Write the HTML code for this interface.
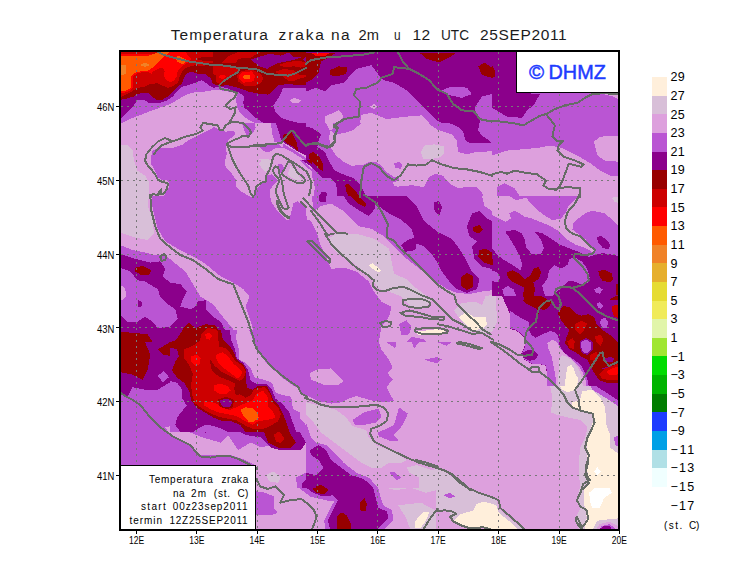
<!DOCTYPE html>
<html lang="hr"><head><meta charset="utf-8"><title>Temperatura zraka na 2m</title>
<style>html,body{margin:0;padding:0;background:#fff}body{width:740px;height:582px;overflow:hidden}svg{display:block}text{font-family:"Liberation Sans",sans-serif;fill:#000}</style>
</head><body>
<svg width="740" height="582" viewBox="0 0 740 582">
<rect width="740" height="582" fill="#fff"/>
<defs><clipPath id="mapclip"><rect x="120" y="51" width="499" height="479"/></clipPath></defs>
<g clip-path="url(#mapclip)" shape-rendering="crispEdges">
<rect x="119" y="50" width="501" height="481" fill="#ba55d3"/>
</g>
<defs><clipPath id="c0"><rect x="120" y="50" width="93" height="73"/></clipPath><clipPath id="c1"><rect x="213" y="50" width="93" height="73"/></clipPath><clipPath id="c2"><rect x="120" y="123" width="93" height="73"/></clipPath><clipPath id="c3"><rect x="213" y="123" width="93" height="73"/></clipPath><clipPath id="c4"><rect x="306" y="50" width="186" height="73"/></clipPath><clipPath id="c5"><rect x="306" y="123" width="93" height="73"/></clipPath><clipPath id="c6"><rect x="399" y="123" width="93" height="73"/></clipPath><clipPath id="c7"><rect x="492" y="50" width="128" height="146"/></clipPath><clipPath id="c8"><rect x="120" y="196" width="186" height="146"/></clipPath><clipPath id="c9"><rect x="306" y="196" width="186" height="146"/></clipPath><clipPath id="c10"><rect x="492" y="196" width="128" height="146"/></clipPath><clipPath id="c11"><rect x="120" y="342" width="186" height="146"/></clipPath><clipPath id="c12"><rect x="306" y="342" width="186" height="146"/></clipPath><clipPath id="c13"><rect x="492" y="342" width="128" height="146"/></clipPath><clipPath id="c14"><rect x="255" y="488" width="181" height="43"/></clipPath><clipPath id="c15"><rect x="436" y="488" width="184" height="43"/></clipPath><clipPath id="c16"><rect x="510" y="300" width="110" height="86"/></clipPath><clipPath id="c17"><rect x="170" y="330" width="130" height="102"/></clipPath><clipPath id="c18"><rect x="492" y="196" width="128" height="100"/></clipPath><clipPath id="c19"><rect x="236" y="160" width="76" height="60"/></clipPath></defs>
<g clip-path="url(#mapclip)" shape-rendering="crispEdges">
<g clip-path="url(#c0)">
<rect x="120" y="50" width="93" height="73" fill="#ba55d3"/>
<polygon fill="#dda0dd" points="122.5,123 132.6,117.9 142.6,114.1 152.7,110.3 162.7,106.6 170.3,104 176.6,100.3 182.8,96.5 187.9,94 195.4,92.1 205.5,91.5 213,90.2 213,123"/>
<polygon fill="#8b008b" points="120,50 213,50 213,87.7 210.5,86.4 206.7,83.3 201.7,80.2 194.1,83.3 187.9,85.2 182.8,86.4 179.1,89 172.8,96.5 166.5,100.9 157.7,103.4 148.9,102.8 143.9,99.6 137.6,100.3 133.8,105.3 127.5,111.6 121,118.5 120,120.4"/>
<polygon fill="#980000" points="120,50 213,50 213,83.7 210.5,78.3 205.5,73.9 197.9,73.9 192.9,72 187.9,72.6 185.4,75.1 181.6,83.9 176.6,87.7 172.8,91.5 167.8,96.5 162.7,99.6 156.4,99.6 152.7,97.1 148.9,93.4 143.9,92.7 137.6,94 133.8,96.5 127.5,98.4 121,99.6 120,99.6"/>
<polygon fill="#cd0000" points="120,50 213,50 213,62.6 208,63.8 202.9,66.3 195.4,65.1 190.4,66.3 184.1,68.9 180.3,75.1 177.8,82.7 172.8,86.4 167.8,87.7 162.7,85.8 157.7,83.3 150.2,83.9 145.1,86.4 138.9,87.7 133.8,90.2 127.5,94 121,97.1 120,97.1"/>
<polygon fill="#980000" points="196.7,58.8 202.9,56.9 213,57.5 213,60.7 205.5,60.7 199.2,60.3"/>
<polygon fill="#ff0000" points="120,54.4 155.2,54.4 159,52 185.4,52 188.5,55.7 191.6,59.4 187.9,62.6 182.8,65.7 179.1,68.9 177.2,72.6 176.6,76.4 174,80.8 170.3,82 167.1,80.8 164,76.4 164.6,70.7 162.7,67.6 157.7,68.9 152.7,72 151.4,74.1 148.3,71.6 137.6,72.9 132.6,77 132.6,88.3 127.5,92.1 120,93.4"/>
<polygon fill="#ff5a00" points="120,55.7 148.9,55.7 157.7,52.5 168.4,52 169,53.1 162.7,57.5 157.7,62.6 152.7,67.6 147.6,70.7 140.1,71.4 133.8,73.2 130.7,77.6 130.7,87.7 127.5,90.2 120,91.5"/>
<polygon fill="#ff5a00" points="174,57.5 179.1,55.7 186.6,60.1 182.8,64.5 177.8,61.9"/>
<polygon fill="#f08228" points="120,65.7 125.7,64.5 125.7,73.9 123.1,75.1 120,75.1"/>
<polygon fill="#f08228" points="140.1,65.1 145.1,62.6 150.2,65.1 145.1,67"/>
</g>
<g clip-path="url(#c1)">
<rect x="213" y="50" width="93" height="73" fill="#ba55d3"/>
<polygon fill="#dda0dd" points="213,89.6 220.5,90.2 228.1,91.5 236.9,93.4 236.2,100.3 236.9,106.6 240,112.8 245.7,117.9 254.5,123 213,123"/>
<polygon fill="#dda0dd" points="289.7,100.3 294.7,97.8 301,100.3 298.5,102.8 292.2,102.8"/>
<polygon fill="#8b008b" points="213,50 306,50 306,87.7 283.4,87.7 278.4,97.8 273.3,105.3 275.8,112.8 280.9,117.9 288.4,120.4 298.5,123 263.3,123 255.7,117.9 250.7,112.8 244.4,107.8 243.2,102.8 244.4,96.5 239.4,92.7 231.9,90.2 225.6,87.7 219.3,87.1 213,87.7"/>
<polygon fill="#980000" points="213,50 306,50 306,84.6 298.5,85.2 288.4,83.9 278.4,85.2 273.3,90.2 268.3,94.6 257,93.4 248.2,91.5 238.1,87.7 228.1,85.2 220.5,85.8 213,83.9"/>
<polygon fill="#8b008b" points="250.7,59.4 260.8,56.3 269.6,53.8 280.9,55.7 288.4,52.5 293.4,56.9 301,57.5 293.4,60.1 283.4,61.9 275.8,63.8 267,68.9 259.5,66.3 254.5,62.6"/>
<polygon fill="#8b008b" points="306,56.9 302.9,59.4 306,62.6"/>
<polygon fill="#cd0000" points="222.4,62.6 229.3,55.7 238.1,52 260.8,52 250.7,57.5 238.1,58.8 235.6,63.2"/>
<polygon fill="#cd0000" points="213,66.3 230.6,66.3 239.4,68.9 238.1,72 231.9,75.1 225.6,80.2 219.3,83.9 215.5,81.4 215.5,75.1 213,73.9"/>
<polygon fill="#ff0000" points="219.3,75.8 223.1,74.5 226.2,76.4 223.1,78.9 219.3,78.3"/>
<polygon fill="#cd0000" points="236.9,75.1 241.9,70.7 253.2,70.1 260.8,73.9 263.3,78.9 260.8,83.3 254.5,86.4 244.4,85.8 238.1,81.4"/>
<polygon fill="#ff0000" points="238.1,77 242.5,72 252,71.4 255.1,76.4 253.2,81.4 243.2,82.7"/>
<polygon fill="#ff5a00" points="242.5,77 245,75.1 249.4,75.1 250.7,77 249.4,78.9 244.4,79.2"/>
<polygon fill="#cd0000" points="274.6,72 283.4,68.9 293.4,70.1 299.7,75.1 306,75.1 306,77 298.5,78.9 293.4,81.4 288.4,80.8 280.9,75.1"/>
<polygon fill="#cd0000" points="278.4,65.1 288.4,61.9 298.5,60.7 306,62.6 306,66.3 301,67.6 293.4,66.3 285.9,67.6"/>
</g>
<g clip-path="url(#c2)">
<rect x="120" y="123" width="93" height="73" fill="#dda0dd"/>
<polygon fill="#ba55d3" points="213,128 208,130.5 200.4,134.3 195.4,136.8 187.9,140.6 182.8,144.4 172.8,148.1 161.5,148.1 152.7,150 151.4,155.7 151.4,164.5 155.2,170.8 157.7,177 161.5,179.6 168.4,180.8 169,187.1 166.5,191.5 164,196 213,196"/>
<polygon fill="#d8bfd8" points="120,145 127.5,145 132.6,150.6 133.8,159.4 137.6,170.8 145.1,175.8 148.9,182.1 148.9,196 120,196"/>
</g>
<g clip-path="url(#c3)">
<rect x="213" y="123" width="93" height="73" fill="#dda0dd"/>
<polygon fill="#ba55d3" points="213,126.8 219.3,129.3 225.6,131.8 230.6,130.5 235.6,131.8 234.4,135.6 229.3,139.3 225.6,144.4 226.8,154.4 224.9,160.7 225.6,167 230.6,172 235.6,179.6 238.1,188.4 244.4,196 213,196"/>
<polygon fill="#ba55d3" points="241.9,123 254.5,123 255.7,128 252,134.3 246.9,135.6 244.4,130.5"/>
<polygon fill="#ba55d3" points="259.5,146.2 267,145 278.4,144.4 283.4,148.1 275.8,148.1 269.6,151.9 263.3,151.3"/>
<polygon fill="#ba55d3" points="270.8,123 278.4,123 278.4,130.5 283.4,140.6 280.9,143.7 274.6,141.9 272.1,133.1"/>
<polygon fill="#ba55d3" points="283.4,143.7 288.4,146.9 297.2,151.9 306,158.2 306,160.7 298.5,156.3 290.9,151.3 283.4,147.5"/>
<polygon fill="#ba55d3" points="278.4,164.5 283.4,165.7 283.4,173.3 280.9,179.6 283.4,188.4 285.9,196 273.3,196 268.3,193.4 268.3,185.8 273.3,177 275.8,170.8"/>
<polygon fill="#8b008b" points="275.8,123 306,123 306,155.7 301,153.2 297.2,151.3 290.9,146.9 284.6,143.1 280.9,139.3 278.4,130.5"/>
<polygon fill="#980000" points="283.4,134.9 291.5,131.8 294.7,138.1 297.2,143.1 297.8,151.3 293.4,146.9 287.1,143.7 283.4,139.3"/>
<polygon fill="#d8bfd8" points="258.9,159.4 269.6,158.8 268.3,165.7 263.9,172 260.1,165.7"/>
<polygon fill="#d8bfd8" points="233.7,159.4 236.2,160.7 236.9,167 234.4,168.2"/>
<polygon fill="#d8bfd8" points="289.7,167 293.4,164.5 299.7,173.3 303.5,178.3 295.9,179.6 288.4,175.8"/>
</g>
<g clip-path="url(#c4)">
<rect x="306" y="50" width="186" height="73" fill="#ba55d3"/>
<polygon fill="#8b008b" points="306,50 492,50 492,122.9 441.7,122.9 436.7,120.4 426.7,110.3 416.6,100.3 406.6,90.2 394,82.7 383.9,80.2 378.9,75.1 371.4,65.1 356.3,68.9 343.7,82.7 331.1,85.2 324.9,91.5 316.1,87.7 306,91.5"/>
<polygon fill="#ba55d3" points="441.7,90.2 451.8,86.5 466.9,87.7 471.9,94 461.9,97.8 449.3,95.2"/>
<polygon fill="#ba55d3" points="492,94 482,96.5 474.4,107.8 479.5,120.4 479.5,122.9 492,122.9"/>
<polygon fill="#980000" points="306,52.5 336.2,52.5 328.6,57.5 321.1,61.3 318.6,72.6 311,80.2 306,82.7"/>
<polygon fill="#980000" points="329.9,70.1 338.7,66.3 347.5,67.6 346.2,73.9 336.2,76.4 329.9,75.1"/>
<polygon fill="#980000" points="419.1,52.5 456.8,52.5 449.3,57.5 439.2,62.6 426.7,58.8"/>
<polygon fill="#980000" points="478.2,66.3 484.5,62.6 492,67.6 492,77.7 482,75.1"/>
<polygon fill="#ff0000" points="311,52.5 329.9,52.5 326.1,55.5 316.1,56.3"/>
<polygon fill="#dda0dd" points="324.9,116.6 338.7,110.3 343.7,115.9 338.7,122.9 324.9,122.9"/>
<polygon fill="#dda0dd" points="360,122.9 361.3,114.9 371.4,112.8 386.4,119.1 406.6,116.6 421.6,115.4 429.2,122.9"/>
<polygon fill="#dda0dd" points="370.1,106.6 373.9,104 377.6,106.6 373.9,109.1"/>
</g>
<g clip-path="url(#c5)">
<rect x="306" y="123" width="93" height="73" fill="#ba55d3"/>
<polygon fill="#dda0dd" points="329.9,130.5 336.2,134.3 343.7,133.1 353.8,129.9 361.3,123 399,123 399,178.3 394,177 386.4,172 381.4,165.7 376.4,162.2 368.8,162.2 362.6,165.1 351.2,165.7 343.7,162 336.2,155.7 331.1,148.1 329.2,138.1"/>
<polygon fill="#dda0dd" points="326.1,123 333,123 333,129.3 329.9,130.5"/>
<polygon fill="#ba55d3" points="394,163.2 399,162 399,168.2 395.2,167.6"/>
<polygon fill="#dda0dd" points="392.7,182.1 399,180.8 399,187.1 394,185.8"/>
<polygon fill="#8b008b" points="306,126.8 312.3,128 321.1,134.3 318.6,140.6 317.3,146.9 324.9,151.9 328.6,160.7 334.9,170.8 343.7,174.5 353.8,178.3 360,184.6 366.3,196 337.4,196 336.2,183.3 331.1,178.3 322.3,178.3 314.8,170.8 308.5,163.2 306,160.7"/>
<polygon fill="#980000" points="309.1,154.4 312.9,151.9 318.6,155.7 323,164.5 323,171.4 318.6,168.2 312.3,162 309.1,158.2"/>
<polygon fill="#980000" points="345,184.6 348.7,184 356.3,191.5 358.8,196 348.7,196 346.2,190.9"/>
<polygon fill="#dda0dd" points="306,170.1 309.8,173.3 313.5,179.6 314.8,188.4 313.5,196 306,196"/>
<polygon fill="#8b008b" points="318.6,196 322.3,191.5 326.7,192.8 327.4,196"/>
</g>
<g clip-path="url(#c6)">
<rect x="399" y="123" width="93" height="73" fill="#dda0dd"/>
<polygon fill="#ba55d3" points="427.9,123 436.7,129.3 444.2,131.8 451.8,134.3 456.8,140.6 458.1,151.9 466.9,154.4 476.9,151.9 492,151.3 492,123"/>
<polygon fill="#8b008b" points="449.3,123 458.1,126.8 463.1,131.8 465.6,140.6 470.6,143.1 490.7,142.5 489.5,140.6 481.9,135.6 478.2,130.5 479.4,123"/>
<polygon fill="#ba55d3" points="399,186.5 411.6,185.2 424.1,187.1 429.2,177 435.4,173.9 443,175.8 449.3,183.3 458.1,188.4 469.4,186.5 476.9,187.1 481.9,192.1 483.2,196 399,196"/>
<polygon fill="#ba55d3" points="399,162 402.1,164.5 400.9,168.9 399,169.5"/>
<polygon fill="#d8bfd8" points="421,151.9 424.1,145.6 434.2,144.4 443.6,146.2 443.6,154.4 439.2,157.6 429.2,159.4 422.9,158.8"/>
</g>
<g clip-path="url(#c7)">
<rect x="492" y="50" width="128" height="146" fill="#ba55d3"/>
<polygon fill="#8b008b" points="492,50 517.1,50 517.1,92.7 539.8,94 534.7,104 527.2,110.3 522.2,117.9 507.1,116.6 492,107.8"/>
<polygon fill="#dda0dd" points="492,155.6 507.1,150.6 522.2,149.3 537.2,148 549.8,145.5 562.4,148 577.5,155.6 590,163.1 600.1,170.7 610.1,175.7 620.2,175.7 620.2,196.1 492,196.1"/>
<polygon fill="#dda0dd" points="593.8,141.8 600.1,136.7 620.2,135.5 620.2,161.9 605.1,160.6 597.6,155.6"/>
<polygon fill="#dda0dd" points="602.6,94 620.2,94 620.2,100.3 612.7,96.5"/>
<polygon fill="#980000" points="492,65.6 495.5,71.4 495,76.4 492,78.2"/>
<polygon fill="#ba55d3" points="497,187 504.6,183.2 514.6,188.3 519.7,196.1 497,196.1"/>
</g>
<g clip-path="url(#c8)">
<rect x="120" y="196" width="186" height="146" fill="#ba55d3"/>
<polygon fill="#dda0dd" points="120,196 151.4,196 152.7,208.6 157.7,228.7 165.2,241.2 177.8,248.8 192.9,256.3 205.5,263.9 220.6,276.4 233.1,282.7 243.2,289 249.5,296.6 245.7,306.6 250.7,321.7 257,342.1 238.1,342.1 233.1,329.2 220.6,314.1 213,304.1 200.4,296.6 192.9,284 185.4,271.4 172.8,261.4 165.2,255.1 155.2,255.1 145.1,252.6 132.6,250 120,245"/>
<polygon fill="#d8bfd8" points="120,196 148.9,196 147.7,206.1 152.7,218.6 153.9,233.7 147.7,240 135.1,237.5 120,232.5"/>
<polygon fill="#dda0dd" points="270.8,196 306,196 306,206.1 296,203.5 285.9,206.1 275.9,211.1"/>
<polygon fill="#8b008b" points="120,253.8 135.1,258.8 150.2,262.6 160.2,261.4 165.2,268.9 162.7,276.4 170.3,282.7 180.3,284 186.6,291.5 182.8,299.1 180.3,306.6 190.4,309.1 195.4,306.6 197.9,301.6 205.5,300.3 205.5,309.1 213,316.7 220.6,321.7 225.6,331.7 230.6,342.1 120,342.1"/>
<polygon fill="#ba55d3" points="120,267.6 130.1,271.4 137.6,280.2 145.1,281.5 157.7,289 160.2,296.6 167.8,304.1 175.3,309.1 177.8,319.2 170.3,326.7 157.7,328 152.7,321.7 145.1,316.7 137.6,321.7 127.5,321.7 120,314.1"/>
<polygon fill="#dda0dd" points="120,285.2 125,287.8 126.3,296.6 122.5,300.3 120,300.3"/>
<polygon fill="#8b008b" points="137.6,299.1 142.6,302.8 141.4,306.6 137.6,306.6"/>
<polygon fill="#980000" points="135.1,267.6 142.6,265.9 151.4,270.2 148.9,275.2 141.4,275.2 135.1,271.4"/>
<polygon fill="#980000" points="120,331.7 135.1,333 147.7,334.3 152.7,342.1 120,342.1"/>
<polygon fill="#980000" points="180.3,342.1 182.8,329.2 189.1,322.9 195.4,328 205.5,324.2 215.5,325.5 219.3,331.7 220.6,342.1"/>
<polygon fill="#cd0000" points="200.4,342.1 201.7,333 208,328 215.5,329.2 216.8,342.1"/>
<polygon fill="#ff0000" points="205.5,336.8 209.2,333 212.5,335.5 210.5,340.5 206,340.5"/>
</g>
<g clip-path="url(#c9)">
<rect x="306" y="196" width="186" height="146" fill="#ba55d3"/>
<polygon fill="#dda0dd" points="306,208.6 313.5,211.1 321.1,206.1 331.1,203.5 343.7,211.1 358.8,226.2 371.4,228.7 383.9,236.2 394,246.3 406.6,258.8 416.6,266.4 431.7,279 446.8,289 456.8,292.8 469.4,294 482,291.5 492,290.3 492,342.1 378.9,342.1 381.4,326.7 389,316.7 391.5,306.6 381.4,301.6 373.9,291.5 368.8,281.5 356.3,271.4 343.7,267.6 331.1,268.9 326.1,256.3 321.1,246.3 316.1,231.2 311,221.1 306,218.6"/>
<polygon fill="#dda0dd" points="306,196 311,196 313.5,206.1 306,211.1"/>
<polygon fill="#dda0dd" points="482,196 492,196 492,211.1 484.5,206.1"/>
<polygon fill="#d8bfd8" points="328.6,238.7 336.2,233.7 356.3,233.7 373.9,238.7 389,248.8 391.5,261.4 394,273.9 406.6,279 414.1,286.5 424.1,294 431.7,299.1 426.7,306.6 411.6,306.6 401.5,296.6 389,291.5 378.9,289 371.4,279 363.8,271.4 351.2,261.4 338.7,253.8 331.1,246.3"/>
<polygon fill="#d8bfd8" points="453.8,310.4 460.9,303.3 474.9,301.6 482,305.1 485.5,296.3 493.3,294.5 493.3,331.7 482,333 469.4,331.7 461.9,321.7"/>
<polygon fill="#ffefdb" points="368.8,265.1 372.6,263.4 381.4,270.2 378.9,272.7 372.6,268.9"/>
<polygon fill="#ffefdb" points="459.1,317.4 466.1,311.9 474.9,317.4 485.5,317.4 487,324.5 482,329 471.4,330.5 464.4,322.7"/>
<polygon fill="#ffefdb" points="416.6,331.7 436.7,329.2 446.8,330.5 441.7,334.3 426.7,335.5 416.6,334.3"/>
<polygon fill="#ba55d3" points="399,324.2 406.6,320.4 411.6,326.7 409.1,334.3 401.5,335.5"/>
<polygon fill="#ba55d3" points="406.6,342.1 411.6,336.8 424.1,339.3 426.7,342.1"/>
<polygon fill="#8b008b" points="368.8,196 406.6,196 416.6,206.1 424.1,221.1 436.7,231.2 451.8,238.7 459.3,248.8 466.9,261.4 471.9,271.4 479.5,279 476.9,289 466.9,292.8 456.8,289 449.3,281.5 441.7,271.4 436.7,261.4 431.7,253.8 424.1,246.3 416.6,243.8 415.4,250 405.3,251.8 401,245 406.6,240.7 414.1,237.5 411.6,228.7 401.5,219.9 389,213.6 378.9,206.1"/>
<polygon fill="#8b008b" points="466.9,226.2 471.9,213.6 479.5,211.1 487,218.6 492,221.1 492,268.9 482,266.4 474.4,258.8 471.9,246.3 476.9,241.2 469.4,236.2"/>
<polygon fill="#8b008b" points="433.7,202.3 439.2,201 442.2,207.3 439.2,216.1 434.7,211.1"/>
<polygon fill="#8b008b" points="318.6,196 326.1,196 326.1,202.3 319.8,202.3"/>
<polygon fill="#8b008b" points="343.7,196 373.9,196 375.1,208.6 368.8,216.1 356.3,208.6 348.7,203.5"/>
<polygon fill="#980000" points="350,196 358.8,196 366.3,203.5 365.1,207.3 356.3,202.3"/>
<polygon fill="#980000" points="473.2,227.4 479.5,224.9 483.2,229.9 478.2,233.7 473.2,231.2"/>
<polygon fill="#980000" points="479.5,250 485.7,248.8 492,252.6 492,265.1 484.5,262.6 478.2,256.3"/>
<polygon fill="#980000" points="460.6,277.7 466.9,272.7 473.2,276.4 473.2,286.5 466.9,290.3 460.6,285.2"/>
</g>
<g clip-path="url(#c10)">
<rect x="492" y="196" width="128" height="146" fill="#ba55d3"/>
<polygon fill="#dda0dd" points="492,196 620.2,196 620.2,211.1 610.1,208.6 597.6,209.8 587.5,211.1 577.5,218.6 572.4,226.2 577.5,233.7 587.5,241.2 595.1,250 587.5,252.6 575,246.3 564.9,238.7 557.4,233.7 552.3,223.7 542.3,221.1 534.7,211.1 529.7,206.1 522.2,206.1 514.6,211.1 507.1,216.1 499.5,214.9 492,217.4"/>
<polygon fill="#ba55d3" points="529.7,198.5 542.3,196 562.4,201 566.2,211.1 559.9,219.9 549.8,221.1 539.8,214.9 532.2,208.6"/>
<polygon fill="#ba55d3" points="507.1,213.6 517.1,209.8 524.7,216.1 519.7,221.1 509.6,219.9"/>
<polygon fill="#8b008b" points="492,233.7 502.1,238.7 507.1,231.2 517.1,229.9 524.7,238.7 527.2,248.8 532.2,246.3 534.7,231.2 542.3,231.2 552.3,238.7 559.9,246.3 569.9,253.8 577.5,256.3 587.5,255.1 597.6,256.3 607.6,258.8 620.2,258.8 620.2,342.1 527.2,342.1 524.7,331.7 517.1,321.7 507.1,314.1 499.5,306.6 497,296.6 492,291.5 492,281.5 495.8,281.5 497,268.9 492,268.9"/>
<polygon fill="#8b008b" points="597.6,237.5 603.9,236.2 610.1,243.8 606.4,250 600.1,245"/>
<polygon fill="#ba55d3" points="549.8,268.9 557.4,266.4 567.4,258.8 577.5,258.8 585,266.4 588.8,276.4 585,284 577.5,286.5 567.4,281.5 557.4,286.5 549.8,294 542.3,291.5 544.8,281.5"/>
<polygon fill="#ba55d3" points="503.3,289 509.6,286.5 515.9,292.8 512.1,296.6 505.8,295.3"/>
<polygon fill="#ba55d3" points="593.8,289 598.8,286.5 602.6,290.3 597.6,295.3"/>
<polygon fill="#ba55d3" points="597.6,311.6 605.1,316.7 608.9,324.2 602.6,328 598.8,320.4"/>
<polygon fill="#ba55d3" points="596.3,301.6 601.4,304.1 602.6,309.1 597.6,307.9"/>
<polygon fill="#dda0dd" points="492,296.1 502.1,296.1 510.1,314.1 514.6,342.1 492,342.1"/>
<polygon fill="#d8bfd8" points="492,296.1 495.8,296.1 497,321.7 492,331.7"/>
<polygon fill="#980000" points="507.1,273.9 514.6,271.4 524.7,276.4 532.2,268.9 539.8,268.9 541,279 537.2,289 542.3,296.6 547.3,299.1 542.3,304.1 532.2,306.6 524.7,301.6 522.2,291.5 519.7,284 512.1,282.7 507.1,279"/>
<polygon fill="#980000" points="537.2,314.1 546,301.6 554.8,300.3 559.9,306.6 564.9,304.1 569.9,309.1 572.4,316.7 585,316.7 592.6,314.1 597.6,321.7 600.1,331.7 607.6,342.1 557.4,342.1 556.1,321.7 549.8,314.1 542.3,316.7"/>
<polygon fill="#980000" points="598.8,272.7 605.1,270.2 612.7,273.9 612.7,280.2 605.1,281.5 600.1,277.7"/>
<polygon fill="#980000" points="620.2,284 615.2,296.6 610.1,299.1 607.6,306.6 612.7,316.7 620.2,319.2"/>
<polygon fill="#cd0000" points="572.4,326.7 577.5,321.7 585,320.4 591.3,324.2 590,331.7 582.5,335.5 575,333"/>
<polygon fill="#cd0000" points="592.6,336.8 600.1,334.3 602.6,342.1 592.6,342.1"/>
<polygon fill="#cd0000" points="612.7,306.6 620.2,304.1 620.2,316.7 613.9,314.1"/>
</g>
<g clip-path="url(#c11)">
<rect x="120" y="342" width="186" height="146" fill="#ba55d3"/>
<polygon fill="#dda0dd" points="230.6,342 250.7,342 255.7,352.1 265.8,364.6 280.9,377.2 296,387.2 306,397.3 306,425 296,414.9 293.5,402.3 283.4,392.3 270.8,379.7 255.7,372.2 245.7,362.1 238.1,352.1"/>
<polygon fill="#dda0dd" points="165.2,427.5 175.3,425 190.4,432.5 203,437.5 220.6,442.6 228.1,435 238.1,450.1 250.7,442.6 260.8,447.6 270.8,445.1 285.9,447.6 306,442.6 306,488.1 255.7,488.1 255.7,465.2 245.7,460.1 230.6,455.1 215.5,455.1 200.4,455.1 192.9,447.6 182.8,442.6 170.3,435"/>
<polygon fill="#d8bfd8" points="265.8,475.2 273.3,471.5 280.9,476.5 278.4,482.8 269.6,481.5"/>
<polygon fill="#ba55d3" points="296,477.7 306,472.7 306,488.1 297.2,488.1"/>
<polygon fill="#8b008b" points="301.5,488.1 302.3,482.8 306,479 306,488.1"/>
<polygon fill="#8b008b" points="120,342 234.4,342 241.9,352.1 249.5,362.1 252.7,375.9 263.3,382.7 273.8,386.7 283.4,399.3 288.9,414.4 298.5,429.5 306,442.6 301,450.1 280.9,450.1 270.8,447.6 260.8,437.5 245.7,435 230.6,427.5 220.6,425 210.5,427.5 205.5,432.5 192.9,430 185.4,425 175.3,419.9 182.8,409.9 185.4,402.3 180.3,392.3 170.3,382.2 157.7,389.8 145.1,389.8 132.6,387.2 127.5,397.3 120,392.3"/>
<polygon fill="#ba55d3" points="157.7,375.9 164,370.9 169,377.2 162.7,382.2"/>
<polygon fill="#980000" points="120,342 145.1,342 150.2,354.6 147.7,369.7 142.6,379.7 132.6,374.7 120,372.2"/>
<polygon fill="#980000" points="157.7,349.5 170.3,342 230.6,342 238.1,354.6 245.7,367.1 245.7,379.7 255.7,387.2 265.8,386 275.9,397.3 280.9,412.4 290.9,435 296,442.6 290.9,447.6 278.4,447.6 268.3,442.6 263.3,430 250.7,432.5 238.1,425 220.6,419.9 205.5,414.9 195.4,407.4 190.4,392.3 182.8,384.7 177.8,369.7 177.8,357.1 162.7,354.6"/>
<polygon fill="#cd0000" points="182.8,349.5 192.9,344.5 203,342 230.6,342 235.6,354.6 243.2,367.1 244.4,377.2 238.1,384.7 243.2,394.8 253.2,392.3 258.3,387.2 265.8,388.5 273.3,399.8 278.4,414.9 280.9,425 275.9,428.7 269.6,428.7 260.8,427.5 250.7,430 240.7,422.4 228.1,419.9 215.5,417.4 203,409.9 195.4,402.3 192.9,389.8 187.9,382.2 185.4,369.7 182.8,359.6"/>
<polygon fill="#980000" points="205.5,364.6 213,362.1 218,369.7 225.6,377.2 235.6,379.7 240.7,384.7 238.1,392.3 230.6,387.2 220.6,382.2 210.5,377.2 205.5,372.2"/>
<polygon fill="#ff0000" points="215.5,357.1 220.6,350.8 228.1,352.1 233.1,362.1 240.7,369.7 243.2,375.9 235.6,377.2 228.1,372.2 220.6,367.1"/>
<polygon fill="#ff0000" points="213,384.7 223.1,383.5 230.6,388.5 225.6,392.3 218,393.5 213,389.8"/>
<polygon fill="#ff0000" points="203,401.1 213,399.8 220.6,407.4 230.6,409.9 235.6,404.8 248.2,399.8 253.2,392.3 260.8,389.8 268.3,397.3 270.8,407.4 275.9,414.9 270.8,422.4 263.3,425 255.7,428.7 245.7,427.5 238.1,419.9 225.6,417.4 213,412.4 205.5,407.4"/>
<polygon fill="#cd0000" points="273.8,434.5 279.6,431.2 284.7,438.8 280.9,443.1 275.9,441.5"/>
<polygon fill="#ff0000" points="191.6,355.8 196.7,354.6 200.4,364.6 195.4,367.1 191.6,362.1"/>
<polygon fill="#ff5a00" points="240.7,411.1 248.2,407.4 257,409.9 258.3,417.4 253.2,421.2 245.7,419.9 240.7,416.2"/>
<polygon fill="#8b008b" points="221.8,401.1 228.1,398.6 232.6,402.3 229.4,406.1 223.1,405.3"/>
</g>
<g clip-path="url(#c12)">
<rect x="306" y="342" width="186" height="146" fill="#dda0dd"/>
<polygon fill="#ba55d3" points="306,342 378.9,342 381.4,349.5 389,359.6 392.7,367.1 387.7,373.4 392.7,379.7 386.4,387.2 394,401.1 381.4,402.3 368.8,399.8 356.3,396 348.7,398.6 341.2,402.3 331.1,403.6 318.6,401.1 306,394.8"/>
<polygon fill="#dda0dd" points="309.8,373.4 316.1,369.7 331.1,368.4 337.4,374.7 343.7,381 338.7,384.7 323.6,384.7 311,379.7"/>
<polygon fill="#ba55d3" points="352.5,419.9 363.8,412.4 378.9,408.6 381.4,417.4 376.4,422.4 363.8,425 355,425"/>
<polygon fill="#ba55d3" points="394,425 399,407.4 407.8,413.6 402.8,425 394,435 399,441.3 391.5,441.3 378.9,436.3 377.6,432.5 386.4,428.7"/>
<polygon fill="#ba55d3" points="386.4,342 396.5,342 395.2,348.3"/>
<polygon fill="#ba55d3" points="411.6,342 419.1,342 414.1,348.3"/>
<polygon fill="#ba55d3" points="424.1,359.6 436.7,357.1 441.7,359.6 436.7,363.4"/>
<polygon fill="#ba55d3" points="436.7,342 451.8,342 446.8,345.8"/>
<polygon fill="#ba55d3" points="389,472.7 394,471.5 401,477.7 396.5,480.3"/>
<polygon fill="#d8bfd8" points="306,402.3 316.1,404.8 326.1,407.4 336.2,409.9 346.2,417.4 352.5,426.2 366.3,430 368.8,437.5 376.4,445.1 389,450.1 399,455.1 406.6,460.1 401.5,462.7 389,462.7 381.4,467.7 371.4,467.7 361.3,462.7 351.2,455.1 341.2,447.6 331.1,440 321.1,432.5 313.5,422.4 306,414.9"/>
<polygon fill="#d8bfd8" points="406.6,467.7 416.6,465.2 431.7,470.2 439.2,477.7 431.7,481.5 419.1,477.7 409.1,472.7"/>
<polygon fill="#d8bfd8" points="431.7,470.2 439.2,467.7 467.4,488.1 419.1,488.1 419.1,477.7"/>
<polygon fill="#ba55d3" points="306,422.4 311,437.5 316.1,442.6 326.1,445.1 333.7,452.6 343.7,462.7 356.3,472.7 368.8,477.7 378.9,488.1 306,488.1"/>
<polygon fill="#8b008b" points="309.8,450.1 318.6,445.1 326.1,450.1 331.1,460.1 341.2,467.7 351.2,475.2 363.8,479 373.9,488.1 306,488.1 306,472.7 316.1,475.2 323.6,467.7 318.6,460.1 311,455.1"/>
<polygon fill="#980000" points="316.1,486.5 321.1,484.8 326.1,488.1 316.1,488.1"/>
</g>
<g clip-path="url(#c13)">
<rect x="492" y="342" width="128" height="146" fill="#dda0dd"/>
<polygon fill="#d8bfd8" points="549.8,384.7 557.4,379.7 562.4,367.1 567.4,357.1 575,359.6 587.5,374.7 597.6,382.2 607.6,392.3 612.7,402.3 620.2,407.4 620.2,488.1 580,488.1 578.7,467.7 580,447.6 585,437.5 587.5,427.5 580,419.9 567.4,417.4 557.4,414.9 551.1,412.4 552.3,397.3"/>
<polygon fill="#ffefdb" points="558.6,384.7 567.4,367.1 572.4,365.9 576.2,372.2 578.7,382.2 575,389.8 567.4,392.3 562.4,389.8"/>
<polygon fill="#ffefdb" points="572.4,402.3 580,399.8 582.5,391 592.6,389.8 600.1,397.3 605.1,407.4 606.4,425 610.1,435 610.1,447.6 620.2,455.1 620.2,488.1 586.3,488.1 588.8,477.7 586.3,467.7 587.5,452.6 586.3,442.6 590,430 593.8,419.9 592.6,413.6 580,411.1 572.4,408.6"/>
<polygon fill="#ba55d3" points="519.7,349.5 529.7,342 562.4,342 567.4,349.5 562.4,357.1 558.6,369.7 552.3,373.4 547.3,364.6 537.2,359.6 527.2,359.6 520.9,354.6"/>
<polygon fill="#ba55d3" points="577.5,342 592.6,342 602.6,364.6 610.1,377.2 620.2,387.2 620.2,407.9 612.7,402.3 602.6,396 592.6,389.8 586.3,379.7 582.5,362.1"/>
<polygon fill="#ba55d3" points="613.9,437.5 620.2,435 620.2,447.6 615.2,445.1"/>
<polygon fill="#8b008b" points="520.9,353.3 529.7,347 533.5,353.3 529.7,358.3 523.4,357.1"/>
<polygon fill="#8b008b" points="587.5,352.1 595.1,342 620.2,342 620.2,401.8 607.6,393.5 597.1,386.7 591.3,377.2 588.8,362.1"/>
<polygon fill="#8b008b" points="552.3,364.6 556.1,363.4 556.1,368.4 552.8,368.4"/>
<polygon fill="#980000" points="563.6,342 580,342 577.5,349.5 569.9,349.5 564.9,345.8"/>
<polygon fill="#980000" points="591.3,357.1 597.6,347 602.6,342 620.2,342 620.2,382.2 610.1,379.7 600.1,374.7 592.6,367.1"/>
<polygon fill="#cd0000" points="564.9,342 575,342 572.4,347.5 567.4,347"/>
<polygon fill="#cd0000" points="600.1,347 610.1,342 620.2,342 620.2,377.2 610.1,375.9 602.6,369.7 605.1,362.1 597.6,357.1"/>
<polygon fill="#8b008b" points="606.4,357.1 612.7,355.8 615.2,362.1 610.1,364.6 606.4,362.1"/>
<polygon fill="#ff0000" points="602.6,369.7 612.7,365.9 620.2,364.6 620.2,375.9 610.1,374.7"/>
<polygon fill="#ffffff" points="593.8,471.5 597.6,467.2 600.6,471.5 597.1,475.2"/>
</g>
<g clip-path="url(#c14)">
<rect x="255" y="488" width="181" height="43" fill="#dda0dd"/>
<polygon fill="#ba55d3" points="256.3,491.4 265.1,492.7 273.9,496.5 273.9,507.8 277.7,512.8 270.1,515.3 256.3,515.3"/>
<polygon fill="#ba55d3" points="287.7,466.3 310.3,465 325.4,460 340.5,460 355.6,470.1 368.1,477.6 378.2,487.7 380.7,497.7 383.2,505.2 392,510.3 393.3,520.3 385.7,527.9 380.7,530.9 325.4,530.9 324.2,520.3 329.2,510.3 334.2,501.5 325.4,500.2 310.3,496.5 300.3,488.9 292.7,477.6"/>
<polygon fill="#8b008b" points="300.3,477.6 312.8,477.6 325.4,460 335.5,460 350.6,470.1 363.1,477.6 373.2,487.7 375.7,497.7 378.2,507.8 387,511.5 388.3,517.8 380.7,525.4 375.7,530.9 330.4,530.9 327.9,520.3 333,510.3 338,500.2 333,495.2 322.9,496.5 312.8,492.7 302.8,485.1"/>
<polygon fill="#980000" points="312.8,488.9 319.1,485.1 325.4,486.4 328.4,490.2 324.2,493.9 316.6,493.2"/>
<polygon fill="#980000" points="359.4,502.7 364.4,497.7 366.9,504 365.6,511.5 360.6,510.3"/>
<polygon fill="#980000" points="336.7,516.6 341.8,512.3 346.8,515.3 350.6,522.8 350.6,530.9 336.7,530.9"/>
<polygon fill="#d8bfd8" points="378.2,472.6 390.8,465 405.9,462.5 436,465 436,490.2 426,492.7 410.9,487.7 395.8,490.2 385.7,487.7"/>
<polygon fill="#d8bfd8" points="398.3,505.2 420.9,502.7 436,510.3 436,530.9 410.9,530.9 405.9,517.8"/>
<polygon fill="#ffefdb" points="414.7,521.6 423.5,511.5 429.7,511.5 426,520.3 420.9,527.9 414.7,527.9"/>
<polygon fill="#ba55d3" points="389.5,473.8 394.5,472.6 400.8,477.6 397.1,480.6 390.8,477.6"/>
</g>
<g clip-path="url(#c15)">
<rect x="436" y="488" width="184" height="43" fill="#dda0dd"/>
<polygon fill="#d8bfd8" points="436,467.5 451.1,475.1 463.7,485.1 478.7,492.7 496.3,500.2 498.8,509 508.9,517.8 521.5,527.9 524,530.9 436,530.9"/>
<polygon fill="#ffefdb" points="453.6,520.3 461.1,514 473.7,510.3 476.2,504 483.8,501.5 496.3,505.2 498.8,512.8 511.4,522.8 519,530.9 468.7,530.9 458.6,525.4"/>
<polygon fill="#dda0dd" points="436,510.3 448.6,511.5 453.6,520.3 466.2,527.9 486.3,527.9 491.3,530.9 436,530.9"/>
<polygon fill="#ba55d3" points="443.5,495.2 449.8,492.7 454.9,496.5 449.8,498.2"/>
<polygon fill="#d8bfd8" points="576.8,500.2 580.5,485.1 581.8,467.5 586.8,460 619.5,460 619.5,530.9 579.3,530.9 575.5,517.8 580.5,507.8"/>
<polygon fill="#ffefdb" points="584.3,490.2 586.8,475.1 589.3,460 619.5,460 619.5,517.8 609.5,520.3 599.4,520.3 591.9,530.9 584.3,530.9 586.8,517.8 584.3,505.2"/>
<polygon fill="#ffffff" points="593.1,471.3 598.1,467.5 600.7,472.6 596.9,475.1"/>
<polygon fill="#ffffff" points="589.3,492.7 594.4,487.7 609.5,487.7 612,492.7 604.4,497.7 599.4,507.8 591.9,507.8 589.8,500.2"/>
<polygon fill="#d8bfd8" points="591.9,530.9 596.9,521.6 609.5,519.1 619.5,520.3 619.5,530.9"/>
<polygon fill="#dda0dd" points="595.6,530.9 599.4,524.1 609.5,521.6 617,525.4 619.5,530.9"/>
<polygon fill="#ba55d3" points="598.1,530.9 601.9,525.9 609.5,524.1 614.5,527.9 615.7,530.9"/>
<polygon fill="#8b008b" points="599.4,529.1 604.4,525.9 610.7,526.6 612,530.9 600.7,530.9"/>
</g>
<g clip-path="url(#c16)">
<rect x="510" y="300" width="110" height="86" fill="#8b008b"/>
<polygon fill="#ba55d3" points="510,310.4 515.9,314.9 523.4,319.3 529.3,322.3 528.6,328.2 530.8,334.2 535.3,337.9 544.2,333.4 550.1,331.2 554.6,332 558.3,335.7 559.1,344.6 563.5,352 569.5,356.5 575.4,360.9 581.4,365.4 584.3,371.4 587.3,378.8 588.8,386.1 547.2,386.1 547.2,372.8 545.7,365.4 539.7,363.9 532.3,363.9 524.9,359.5 521.9,353.5 524.9,347.6 526.4,340.1 521.9,334.2 515.9,329.7 510,328.2"/>
<polygon fill="#dda0dd" points="510,329 515.9,330.5 521.9,334.9 525.6,340.1 524.1,347.6 521.1,353.5 524.1,359.5 532.3,364.2 539.7,364.2 545.4,365.7 546.9,372.8 547.2,386.1 510,386.1"/>
<polygon fill="#8b008b" points="521.9,353.5 527.8,349.8 533.8,350.5 538.2,355 535.3,359.5 529.3,360.9 524.9,358.7"/>
<polygon fill="#dda0dd" points="547.2,343.1 553.1,339.4 557.6,343.1 560.5,349.1 566.5,355 572.4,359.5 578.4,365.4 582.8,372.8 585.8,380.3 586.6,386.1 556.1,386.1 556.1,380.3 554.6,371.4 553.1,363.9 551.6,356.5 548.6,349.1"/>
<polygon fill="#d8bfd8" points="559.1,359.5 562,355 568,357.2 573.9,362.4 578.4,368.4 581.4,375.8 582.8,386.1 557.6,386.1 557.6,380.3 559.1,369.9"/>
<polygon fill="#ffefdb" points="567.2,366.9 570.9,364.7 573.9,368.4 575.4,374.3 578.4,378.8 576.9,386.1 565,386.1 565.7,377.3"/>
<polygon fill="#980000" points="521.9,300 551.6,300 550.1,305.9 544.2,310.4 539.7,308.9 538.2,314.9 536.8,308.9 527.8,304.5"/>
<polygon fill="#980000" points="557.6,313.4 563.5,305.9 569.5,307.4 575.4,313.4 581.4,315.6 588.8,314.1 594.7,317.8 596.2,323.8 602.2,329.7 611.1,335.7 618.1,343.1 618.1,366.9 611.1,365.4 602.2,368.4 596.2,374.3 593.2,371.4 590.3,365.4 587.3,359.5 581.4,356.5 575.4,352 569.5,349.1 565,343.1 566.5,337.2 569.5,329.7 565,325.3 560.5,319.3"/>
<polygon fill="#980000" points="593.2,371.4 618.1,365.4 618.1,383.2 608.1,383.2 599.2,380.3"/>
<polygon fill="#cd0000" points="575.4,323.8 581.4,320.8 587.3,323.8 584.3,329.7 579.9,334.2 575.4,329.7"/>
<polygon fill="#cd0000" points="567.2,341.6 572.4,337.9 574.7,341.6 573.9,349.1 569.5,347.6"/>
<polygon fill="#cd0000" points="594.7,336.4 600.7,334.9 603.6,340.1 600.7,346.1 596.2,341.6"/>
<polygon fill="#cd0000" points="612.6,305.9 618.1,304.5 618.1,317.8 614.1,316.4 611.8,310.4"/>
<polygon fill="#cd0000" points="590.3,355 596.2,352 599.2,356.5 594.7,360.9 590.3,359.5"/>
<polygon fill="#8b008b" points="579.9,340.9 585.8,337.9 592.5,341.6 592.5,349.8 588,355 582.1,353.2 579.6,346.1"/>
<polygon fill="#ba55d3" points="581.4,341.6 585.8,339.4 591,342.4 591,349.1 587.3,353.5 582.8,352 581.1,346.1"/>
<polygon fill="#ba55d3" points="600.7,319.3 605.1,317.5 608.4,322.3 606.6,328.2 602.2,327.5 600.2,323"/>
<polygon fill="#ba55d3" points="597,303.7 599.9,301.8 603.4,306.7 600.7,308.9 597.7,307.4"/>
<polygon fill="#8b008b" points="605.1,358.7 609.6,356.5 614.1,358.7 612.6,362.4 606.6,362.1"/>
<polygon fill="#cd0000" points="599.2,374.3 605.1,368.4 614.1,365.4 618.1,363.9 618.1,380.3 611.1,380.3 602.2,378.8"/>
<polygon fill="#ff0000" points="606.6,371.4 614.1,367.6 618.1,366.9 618.1,374.3 612.6,375.1 608.1,374.3"/>
</g>
<g clip-path="url(#c17)">
<rect x="170" y="330" width="130" height="102" fill="#ba55d3"/>
<polygon fill="#dda0dd" points="237.6,330 249.1,330 252.6,338.8 256.1,347.6 261.4,356.4 268.4,365.1 275.4,371.3 284.2,379.2 293,385.3 298.2,388 300,393.2 300,412.6 293,409.1 291.2,396.8 282.4,395 275.4,392.4 271.9,382.7 264.9,380.1 254.3,377.4 250.8,368.6 245.5,362.5 239.4,359.9 238.5,347.6 235.9,337"/>
<polygon fill="#8b008b" points="170,330 229.7,330 231.5,340.5 235,349.3 236.8,358.1 243.8,363.4 248.2,370.4 250.8,380.9 257.8,384.5 266.6,383.6 271.9,389.7 275.4,398.5 282.4,403.8 289.5,412.6 293,423.1 296.5,432.1 228,432.1 220.9,428.4 212.2,425.7 205.1,424.9 198.1,428.4 192.8,432.1 180.5,432.1 175.3,424.9 177,417.8 182.3,410.8 186.7,405.5 182.3,398.5 182.3,389.7 177,382.7 170,380.9"/>
<polygon fill="#980000" points="170,342.3 175.3,340.5 180.5,333.5 182.3,330 220.9,330 222.7,338.8 228,344.1 233.2,351.1 236.8,359.9 243.8,365.1 246.4,371.3 245.5,379.2 247.3,388 252.6,389.7 257.8,386.2 266.6,385.9 270.1,391.5 273.6,400.3 278.9,405.5 282.4,412.6 285.9,421.4 289.5,432.1 245.5,432.1 240.3,424.9 231.5,421.4 222.7,421.4 213.9,417.8 205.1,412.6 196.4,407.3 191.1,400.3 189.3,391.5 184.1,382.7 177,377.4 171.8,370.4 175.3,361.6 178.8,356.4 177,349.3 170,347.6"/>
<polygon fill="#cd0000" points="184.1,349.3 192.8,345.8 199.9,340.5 201.6,333.5 205.1,330 217.4,330 218.3,338.8 219.2,346.7 226.2,348.4 230.6,353.7 235,360.7 242,365.1 245.9,371.3 243.8,378.3 239.4,380.9 236.8,388 239.4,394.1 245.5,397.6 250.8,395 254.3,388.9 264.9,387.1 269.8,393.2 272.8,402 278,407.3 281,414.3 278,421.4 271.9,424.9 264.9,428.4 254.3,429.3 245.5,425.7 236.8,420.5 228,418.7 219.2,417 210.4,413.4 201.6,408.2 194.6,402.9 192,394.1 191.1,384.5 192.8,373.9 189.3,365.1 184.1,358.1"/>
<polygon fill="#980000" points="210.1,359 213.9,365.1 220.9,371.3 229.7,376 238.5,380.1 240.3,382.7 237.6,388.9 239.4,395 235.9,395.4 234.1,388.9 235,383.6 229.7,380.9 220.9,377.4 213.9,373 210.8,367.8"/>
<polygon fill="#980000" points="218.3,399.4 226.2,396.8 234.1,399.9 232.9,407.3 225.3,409.4 219.2,406.4"/>
<polygon fill="#ff0000" points="205.1,334.4 209.5,332.6 212.2,336.1 209.5,339.7 206,338.8"/>
<polygon fill="#ff0000" points="191.1,356.4 196.4,354.6 200.7,358.1 199.9,364.3 195.5,366 191.4,361.6"/>
<polygon fill="#ff0000" points="216.6,354.6 222.7,352 228,356.4 233.2,363.4 242,371.3 241.1,376 237.6,378.3 231.5,373.9 224.5,368.6 218.3,362.5 216,358.1"/>
<polygon fill="#ff0000" points="213.9,385.3 220.9,383.6 228,386.2 230.6,390.6 226.2,394.1 219.2,393.6 214.3,390.6"/>
<polygon fill="#ff0000" points="204.3,401.1 215.7,402.9 220.9,407.3 229.7,409.9 236.8,407.3 243.8,403.8 252.6,400.3 256.1,394.1 263.1,390.6 267.5,396.8 268.4,407.3 273.6,412.6 275.4,417.8 268.4,419.6 257.8,421.4 252.6,424.9 245.5,421.4 236.8,416.1 228,414.3 219.2,412.6 210.4,409.1 204.3,405.5"/>
<polygon fill="#ff5a00" points="240.3,409.9 245.5,407.3 252.6,408.2 257.8,412.6 258.7,417.8 254.3,421.4 249.1,422.2 243.8,416.1"/>
<polygon fill="#8b008b" points="220.1,400.3 226.2,398.5 232.4,401.1 230.6,406.4 224.5,407.3 220.9,404.7"/>
</g>
<g clip-path="url(#c18)">
<rect x="492" y="196" width="128" height="100" fill="#ba55d3"/>
<polygon fill="#dda0dd" points="492,196 509.3,196 516.2,200.3 526.6,197.7 530.1,202.9 537,209.8 543.9,215 552.5,220.2 561.2,218.5 566.4,211.6 568.1,206.4 575,199.5 578.5,196 619.1,196 619.1,227.1 613.1,220.2 604.4,213.3 592.3,210.7 585.4,213.3 578.5,218.5 573.3,223.7 572.4,229.7 578.5,234.1 585.4,239.2 588.9,244.4 595.8,249.6 594.1,253.1 585.4,247.9 575,244.4 566.4,239.2 557.7,230.6 549.1,225.4 540.4,221.9 531.8,218.5 524.9,216.8 519.7,213.3 514.5,210.7 509.3,213.3 511,218.5 505.8,221.9 498.9,218.5 492,215"/>
<polygon fill="#d8bfd8" points="611.4,197.7 619.1,196.9 619.1,202.9 614.8,202.1"/>
<polygon fill="#8b008b" points="505.8,231.5 514.5,229.7 521.4,233.2 524.5,239.2 526.2,247.9 531.8,253.9 541.3,253.9 543.9,247.9 540.8,239.2 534.4,231.5 542.2,233.2 550.8,238.4 559.5,244.4 568.1,247.9 578.5,251.7 588.9,256.9 595.8,254.8 602.7,253.1 613.1,254.8 619.1,256.5 619.1,296 492,296 492,247.9 497.2,254.8 504.1,260 512.8,265.2 520.5,270.4 522.3,265.2 519.7,255.7 514.5,246.2 509.3,237.5 505.5,232.7"/>
<polygon fill="#ba55d3" points="492,270.4 497.2,272.1 500.3,277.3 497.2,282.5 492,280.8"/>
<polygon fill="#ba55d3" points="502.4,289.4 507.6,285.9 513.6,289.4 516.2,296 504.1,296"/>
<polygon fill="#ba55d3" points="543.9,292.9 542.2,285.9 547.4,279 549.1,270.4 554.3,265.2 561.2,268.6 568.1,264.3 569,259.1 575,257.4 581.9,261.7 587.1,268.6 589.7,277.3 588,282.5 581.9,285.1 575,281.6 568.1,280.8 563.8,285.9 558.6,290.3 552.5,296 545.6,296"/>
<polygon fill="#ba55d3" points="594.1,289.4 599.2,286.8 602.7,289.4 600.1,293.7 595.8,292.9"/>
<polygon fill="#8b008b" points="596.6,237.5 601,235.8 607.9,241 610.5,246.2 607.9,249.6 602.7,247.9 598.4,242.7"/>
<polygon fill="#980000" points="506.7,272.1 512.8,270.4 519.7,273.8 524.9,279 530.1,275.6 533.5,268.6 538.7,266.9 541.3,272.1 538.7,279 533.5,282.5 535.2,289.4 533.5,296 523.1,296 524,287.7 517.9,284.2 511,280.8 507.6,276.4"/>
<polygon fill="#980000" points="598.4,271.2 604.4,269.5 611.4,273 613.1,279 609.6,282.5 602.7,280.8 599.2,275.6"/>
<polygon fill="#980000" points="492,259.1 493.4,260 493.4,265.2 492,265.2"/>
<polygon fill="#980000" points="615.7,284.2 619.1,283.4 619.1,296 615.7,294.6"/>
</g>
<g clip-path="url(#c19)">
<rect x="236" y="160" width="76" height="60" fill="#dda0dd"/>
<polygon fill="#ba55d3" points="236,186.7 240.1,190.8 245.2,193.9 250.9,197 255.5,194.4 256.5,188.8 261.2,184.1 265.8,181.1 267.3,175.4 271.4,174.4 275,177.5 278.1,180 274,184.6 270.4,188.8 269.9,193.9 270.9,201.1 274,206.2 277.1,210.3 281.2,214.4 286.3,219.8 236,219.8"/>
<polygon fill="#ba55d3" points="277.6,164.6 282.2,164.1 283.8,168.2 281.2,173.4 279.1,171.3"/>
<polygon fill="#ba55d3" points="293.5,203.1 297.6,201.1 301.7,204.2 305.8,208.3 306.9,219.8 289.4,219.8 291.5,211.4"/>
<polygon fill="#d8bfd8" points="287.9,174.4 290.4,166.2 294.5,169.2 298.6,175.4 301.7,179.5 296.6,180.5 291.5,177.5"/>
<polygon fill="#d8bfd8" points="259.1,164.1 261.7,160 271.4,160 269.9,166.2 265.8,172.3 262.7,169.2"/>
<polygon fill="#d8bfd8" points="304.8,200.1 307.9,198 307.9,202.1"/>
<polygon fill="#ba55d3" points="299.7,160 302.2,160 311.7,169.2 311.7,171.3 306.9,167.2 302.8,163.1"/>
<polygon fill="#8b008b" points="301.7,160 311.7,160 311.7,167.2 307.9,164.1 304.8,162.1"/>
<polygon fill="#980000" points="306.9,160 311.7,160 311.7,164.1 308.9,162.1"/>
</g>
</g>
<g clip-path="url(#mapclip)" stroke="#787878" stroke-width="1" stroke-dasharray="2 4" fill="none" shape-rendering="crispEdges">
<line x1="136.5" y1="52" x2="136.5" y2="529"/>
<line x1="196.8" y1="52" x2="196.8" y2="529"/>
<line x1="257.2" y1="52" x2="257.2" y2="529"/>
<line x1="317.6" y1="52" x2="317.6" y2="529"/>
<line x1="377.9" y1="52" x2="377.9" y2="529"/>
<line x1="438.2" y1="52" x2="438.2" y2="529"/>
<line x1="498.6" y1="52" x2="498.6" y2="529"/>
<line x1="559.0" y1="52" x2="559.0" y2="529"/>
<line x1="619.3" y1="52" x2="619.3" y2="529"/>
<line x1="121" y1="106.5" x2="618" y2="106.5"/>
<line x1="121" y1="180.3" x2="618" y2="180.3"/>
<line x1="121" y1="254.1" x2="618" y2="254.1"/>
<line x1="121" y1="327.9" x2="618" y2="327.9"/>
<line x1="121" y1="401.7" x2="618" y2="401.7"/>
<line x1="121" y1="475.5" x2="618" y2="475.5"/>
</g>
<g clip-path="url(#mapclip)" stroke="#666c66" stroke-width="2" fill="none" stroke-linejoin="round" stroke-linecap="round" shape-rendering="crispEdges">
<polyline points="157.7,52 164,55 177.8,58.8 187.9,61.3 200.4,63.1 213,65.1 225.6,65.6 239.4,68.1 255.7,68.9 267.1,73.9 280.9,75.1 288.4,75.6 296,73.1 306,68.1"/>
<polyline points="239.4,68.1 238.1,72.1 230.6,76.4 223.1,81.4 219.3,85.2 220.6,89 228.1,90.2 236.9,92.7 234.4,97.8 229.4,101.5 225.6,105.8 230.6,109.1 235.6,107.3 234.4,114.1 230.6,120.4 229.4,122.9"/>
<polyline points="229.4,122.9 225.6,125.4 223.1,129.9 219.3,129.9 218,125.4 210.5,124.2 203,122.9 200.4,127.9 203,130.4 195.4,134.2 185.4,136.7 175.3,140.5 167.8,143 161.5,145.5 156.5,150.6 153.9,154.3"/>
<polyline points="171.5,141 165.2,138 157.7,141.8 151.4,148 146.4,154.3 145.1,160.6 147.7,165.6 151.4,169.4 155.2,174.4 157.7,179.5 162.7,182 167.8,183.2 167.3,188.3 164,193.3 160.2,194.5 161.5,189.5 159,192 157.7,195.3 152.7,193.8 150.7,197.1"/>
<polyline points="229.4,122.9 234.4,121.6 243.2,123.4 249.5,129.2 251.2,133 248.2,136.7 243.2,135.5 239.4,138 235.6,139.2 230.6,141.8 226.8,143.5"/>
<polyline points="226.8,143.5 229.4,150.6 231.9,158.1 236.9,168.1 243.2,178.2 248.2,185.7 250.7,193.3 253.2,197.1"/>
<polyline points="226.8,143.5 230.6,146.8 245.7,146.8 265.8,145.5"/>
<polyline points="250,145.8 265.1,144.5 280.8,143.2 286.4,136.3 290.8,130.7 293.3,130.7 297.7,137 302.8,142.6 305.9,145.8 310.3,143.9 317.8,142.6 322.2,145.8 327.3,147.9 332.3,145.8 334.8,140.7 335.4,135.1 336.7,131.3 337.9,127.5 334.2,126.9 336.7,123.8 343,120.6"/>
<polyline points="254.4,195.4 256.3,186.6 261.3,182.8 265.7,181.6 266.3,175.3 270.1,169 272,161.5 273.2,157.1 276.4,153.9 281.4,155.2 286.4,158.3 291.5,161.5 294,162.7 300.3,167.1 306.5,171.5 309,176.5 311.6,182.8 310.3,190.4 309,195.4"/>
<polyline points="288.3,161.5 285.2,167.7 281.4,174 287.7,178.4 292.7,180.9 297.7,183.4 302.8,182.8 305.3,180.3 302.8,176.5 297.7,172.8 294,166.5 291.5,162.1 288.3,161.5"/>
<polyline points="275.2,166.4 272.6,170.3 274.7,174.4 278.3,178 279.3,181.7 276.7,186.8 275.7,192 277.8,197.1 280.3,203.3 282.9,208 286.5,209.5 288.6,207.4 286.5,202.3 284.5,196.1 282.9,189.9 282.4,183.7 281.4,179.6 279.8,175.5 278.8,170.3 277.8,166.7 275.2,166.4"/>
<polyline points="276.7,200.7 277.8,206.4 280.3,211.6 284.5,215.7 289.1,218.3"/>
<polyline points="277.8,201.2 278.8,206.4 281.4,211 285.5,215.2 289.6,217.2"/>
<polyline points="150.2,194.7 151.4,211.1 155.2,226.2 160.2,238.7 170.3,247.5 180.3,255.1 192.9,260.1 205.5,268.9 218,279 228.1,282.7 233.1,284 238.1,296.6 243.2,309.1 248.2,321.7 253.2,336.8 254.5,343.1"/>
<polyline points="160.2,256.3 164,254.3 166.5,255.8 165.2,260.1 161.5,260.9 160.2,256.3"/>
<polyline points="301,202.3 306,207.3"/>
<polyline points="303.5,198.5 306,201 313.5,209.8 321.1,217.4 329.9,226.2 336.2,232.5 347.5,233.7"/>
<polyline points="311,211.1 318.6,221.1 324.9,231.2 327.4,235 333.7,233.7"/>
<polyline points="307.3,241.2 316.1,250 324.9,258.8 329.9,262.6 329.9,258.8 321.1,250 312.3,241.2 307.3,241.2"/>
<polyline points="324.9,233.7 331.1,243.8 343.7,256.3 356.3,267.6 366.3,273.9 373.9,280.2 372.6,285.2 377.6,290.3 383.9,291.5 394,287.8 404,287 411.6,290.3 421.6,295.3 431.7,299.1 441.7,309.1 451.8,319.2 461.9,324.2 471.9,330.5 482,333 493.3,339.8"/>
<polyline points="363.8,194.7 375.1,202.3 381.4,211.1 387.7,223.7 386.9,237.5 394,240.7 400.3,248.8 411.6,258.3 424.1,271.4 436.7,284 446.8,291 454.3,295.3 456.8,304.1 466.9,314.1 476.9,322.9 482,329.2 490.8,334.3"/>
<polyline points="402.8,300.3 411.6,298.6 424.1,299.6 430.4,302.8 429.2,306.6 419.1,307.9 409.1,307.1 402.8,304.1 402.8,300.3"/>
<polyline points="400.3,312.9 409.1,310.4 419.1,312.9 431.7,316.7 444.3,317.2 443.8,319.7 431.7,319.2 419.1,316.7 406.6,316.2 400.3,312.9"/>
<polyline points="380.2,322.9 385.2,320.9 391.5,322.2 390.2,326.2 382.7,327.2 380.2,322.9"/>
<polyline points="415.4,329.2 426.7,328 439.2,328 448,330.5 446.8,333 434.2,334.3 421.6,333.8 415.4,331.7 415.4,329.2"/>
<polyline points="438,324.2 449.3,326.7 461.9,330.5 471.9,333.8 482,333"/>
<polyline points="306,63.8 311,60.1 326.1,57.5 343.7,56.3 363.8,54.5 373.9,52.5"/>
<polyline points="397.8,52 402.8,61.3 409.1,68.9 394,67.1 392.7,73.9 381.4,77.7 377.6,82.7 366.3,87.7 356.3,89 353.8,95.2 360,101.5 358.8,116.6 343.7,119.1 333.7,125.4 337.4,129.2 333.7,136.7 334.9,141.8 328.6,146.8 318.6,144.3 311,143.5 306,145"/>
<polyline points="409.1,68.9 419.1,73.9 429.2,80.2 436.7,89 446.8,94 453.1,104 461.9,110.3 474.4,111.6 479.5,119.1 492,121.6"/>
<polyline points="360,197.1 361.3,180.7 363.8,166.9 371.4,163.1 378.9,166.9 386.4,175.7 394,180.2 400.3,175.7 407.8,164.4 416.6,165.6 426.7,164.4 431.7,160.1 441.7,164.4 454.3,168.1 466.9,169.4 479.5,171.9 492,175.7"/>
<polyline points="492,121.1 502.1,121.6 514.6,123.4 523.4,125.4 529.7,121.6 539.8,115.9 546,114.1 554.8,109.1 564.9,105.3 577.5,102.8 585,97.8 592.6,94 605.1,93.2 620.2,94.7"/>
<polyline points="546,114.1 551.1,120.4 554.8,125.4 552.3,136.7 556.1,140.5 563.6,141 558.6,145.5 557.4,150.6 563.6,156.8 575,160.6 583.8,164.4 581.2,166.9 568.7,163.6 566.2,170.7 562.4,180.7 558.6,188.3 554.8,190.3"/>
<polyline points="492,174.4 500.8,171.9 507.1,173.7 514.6,170.7 524.7,172.7 537.2,174.4 546,180.7 543.5,185.7 549.8,189.5 558.6,188.3 567.4,187 580,188.3 580,197.1"/>
<polyline points="579.5,194.7 575,203.5 567.4,212.3 564.9,221.1 566.2,228.7 572.4,233.7 580,236.2 588.8,245 595.1,250 592.6,253.8 585,255.1 575,253.8 573.7,257.6 582.5,266.4 587.5,273.9 588.8,280.2 582.5,285.2 572.4,287.8 563.6,286.5 556.1,289 554.8,292.8"/>
<polyline points="572.4,287.8 580,294 590,304.1 597.6,311.6 607.6,316.7 620.2,321.2"/>
<polyline points="554.8,292.8 558.6,296.6 561.1,304.1 558.6,309.1 554.8,306.6 551.1,300.3 546,301.6 539.8,306.6 537.2,314.1 536,321.7 529.7,326.7 525.9,333 524.7,343.1"/>
<polyline points="253.2,340.7 257,349.5 263.3,357.1 270.8,365.9 280.9,374.7 290.9,382.2 298.5,387.2 301,393.5 307.3,396.8"/>
<polyline points="120,392.3 125,396 132.6,399.8 140.1,404.8 145.1,411.1 150.2,417.4 157.7,425 164,430 172.8,436.3 182.8,441.3 190.4,445.1 195.4,451.4 200.4,456.4 210.5,457.6 220.6,455.6 230.6,456.4 238.1,458.9 245.7,462.7 250.7,465.2 257,468.9"/>
<polyline points="304.7,397.8 313.5,401.1 321.1,404.8 333.7,407.4 348.7,407.4 363.8,406.1 376.4,404.8 383.9,407.4 388.5,413.6 386.4,421.2 378.9,426.2 371.4,428.7 370.1,433.8 373.9,441.3 381.4,445.1 394,451.4 406.6,457.6 419.1,462.7 431.7,466.4 444.3,470.2 451.8,474 459.3,480.3 466.9,486.5 470.7,490.3"/>
<polyline points="456.8,343.3 466.9,345.8 479.5,349 482,348.3 469.4,344 459.3,342"/>
<polyline points="490.7,342 502.1,349.5 512.1,357.1 519.7,363.4 527.2,368.4 532.2,372.2 539.8,372.2 538.5,367.1 532.2,367.1 529.7,369.7"/>
<polyline points="539.8,372.2 549.8,379.7 557.4,387.2 563.6,394.8 567.4,402.3 572.4,407.4 580,410.4 592.6,413.6 594.6,422.4 591.3,430 587.5,437.5 585,447.6 588.8,455.1 587.5,465.2 585,475.2 588.8,482.8 582.5,489.1"/>
<polyline points="492,342 499.5,344.5 509.6,349.5 517.1,354.6 524.7,355.8 532.2,354.6 533.5,349.5 529.7,344.5 525.9,340.7"/>
<polyline points="580,410.4 578.7,399.8 575,389.8 582.5,379.7 592.6,364.6 600.1,353.3 602.6,352.1 603.9,359.6 608.9,365.9 620.2,360.9"/>
<polyline points="256.3,478.9 260.1,486.4 267.6,488.9 275.1,486.4 283.9,495.2 280.2,502.7 290.2,500.2 301.5,499 307.8,504 314.1,510.3 316.6,516.6 314.1,524.1 311.6,530.4"/>
<polyline points="415.9,460 426,462.5 437.3,466.3"/>
<polyline points="437.3,509 429.7,519.1 423.5,529.1"/>
<polyline points="436,467.5 446.1,471.3 453.6,476.3 459.9,482.6 467.4,487.7 478.7,492.7 490,496.5 498.8,500.2 500.1,507.8 508.9,515.3 519,524.1 525.2,530.4"/>
<polyline points="436,511.5 444.8,510.3 452.3,511.5 456.1,514 449.8,516.6 453.6,521.6 461.1,525.4 468.7,527.9 483.8,527.4 492.6,529.9"/>
<polyline points="588.1,458.7 585.6,467.5 586.8,475.1 589.8,480.1 583.1,483.9 580.5,492.7 576.8,500.2 580.5,506.5 586.8,510.3 588.1,519.1 584.3,524.9 581.8,527.9 579.3,521.6 576.8,516.6 575.5,520.3 579.3,526.6 583.1,530.4"/>
</g>
<rect x="516.5" y="51.5" width="102" height="41" fill="#fff" stroke="#000" stroke-width="1" shape-rendering="crispEdges"/>
<text x="529.0" y="78.6" font-size="20.5" letter-spacing="0.00" style="fill:#1e3cff;stroke:#1e3cff;stroke-width:0.5">©</text>
<text transform="translate(548.5,78.6) scale(0.968,1)" font-size="20.5" style="fill:#1e3cff;stroke:#1e3cff;stroke-width:0.5">DHMZ</text>
<rect x="120.5" y="465.5" width="135" height="65" fill="#fff" stroke="#000" stroke-width="1" shape-rendering="crispEdges"/>
<text x="148.9" y="483.0" font-size="10" letter-spacing="0.77">Temperatura</text>
<text x="221.4" y="483.0" font-size="10" letter-spacing="0.59">zraka</text>
<text x="173.0" y="496.6" font-size="10" letter-spacing="0.48">na</text>
<text x="191.0" y="496.6" font-size="10" letter-spacing="1.11">2m</text>
<text x="213.8" y="496.6" font-size="10" letter-spacing="0.77">(st.</text>
<text x="237.6" y="496.6" font-size="10" letter-spacing="0.25">C)</text>
<text x="141.0" y="510.1" font-size="10" letter-spacing="1.34">start</text>
<text x="172.7" y="510.1" font-size="10" letter-spacing="0.91">00z23sep2011</text>
<text x="129.5" y="523.8" font-size="10" letter-spacing="0.94">termin</text>
<text x="169.5" y="523.8" font-size="10" letter-spacing="0.75">12Z25SEP2011</text>
<rect x="120" y="51" width="499" height="479" fill="none" stroke="#000" stroke-width="2" shape-rendering="crispEdges"/>
<g stroke="#000" stroke-width="1" shape-rendering="crispEdges">
<line x1="136.5" y1="531" x2="136.5" y2="534"/>
<line x1="196.8" y1="531" x2="196.8" y2="534"/>
<line x1="257.2" y1="531" x2="257.2" y2="534"/>
<line x1="317.6" y1="531" x2="317.6" y2="534"/>
<line x1="377.9" y1="531" x2="377.9" y2="534"/>
<line x1="438.2" y1="531" x2="438.2" y2="534"/>
<line x1="498.6" y1="531" x2="498.6" y2="534"/>
<line x1="559.0" y1="531" x2="559.0" y2="534"/>
<line x1="619.3" y1="531" x2="619.3" y2="534"/>
<line x1="116" y1="106.5" x2="119" y2="106.5"/>
<line x1="116" y1="180.3" x2="119" y2="180.3"/>
<line x1="116" y1="254.1" x2="119" y2="254.1"/>
<line x1="116" y1="327.9" x2="119" y2="327.9"/>
<line x1="116" y1="401.7" x2="119" y2="401.7"/>
<line x1="116" y1="475.5" x2="119" y2="475.5"/>
</g>
<text transform="translate(128.9,543.8) scale(0.814,1)" font-size="10.5">12E</text>
<text transform="translate(189.2,543.8) scale(0.814,1)" font-size="10.5">13E</text>
<text transform="translate(249.6,543.8) scale(0.814,1)" font-size="10.5">14E</text>
<text transform="translate(309.9,543.8) scale(0.814,1)" font-size="10.5">15E</text>
<text transform="translate(370.3,543.8) scale(0.814,1)" font-size="10.5">16E</text>
<text transform="translate(430.6,543.8) scale(0.814,1)" font-size="10.5">17E</text>
<text transform="translate(491.0,543.8) scale(0.814,1)" font-size="10.5">18E</text>
<text transform="translate(551.4,543.8) scale(0.814,1)" font-size="10.5">19E</text>
<text transform="translate(611.7,543.8) scale(0.814,1)" font-size="10.5">20E</text>
<text transform="translate(97.0,111.1) scale(0.857,1)" font-size="11">46N</text>
<text transform="translate(97.0,184.9) scale(0.857,1)" font-size="11">45N</text>
<text transform="translate(97.0,258.7) scale(0.857,1)" font-size="11">44N</text>
<text transform="translate(97.0,332.5) scale(0.857,1)" font-size="11">43N</text>
<text transform="translate(97.0,406.3) scale(0.857,1)" font-size="11">42N</text>
<text transform="translate(97.0,480.1) scale(0.857,1)" font-size="11">41N</text>
<text x="170.8" y="40.4" font-size="15.5" letter-spacing="1.00" style="fill:#1c1c1c">Temperatura</text>
<text x="278.6" y="40.4" font-size="15.5" letter-spacing="1.87" style="fill:#1c1c1c">zraka</text>
<text x="331.0" y="40.4" font-size="15.5" letter-spacing="1.26" style="fill:#1c1c1c">na</text>
<text transform="translate(358.6,40.4) scale(0.947,1)" font-size="15.5" style="fill:#1c1c1c">2m</text>
<text transform="translate(394.0,40.4) scale(0.766,1)" font-size="15.5" style="fill:#1c1c1c">u</text>
<text x="412.5" y="40.4" font-size="15.5" letter-spacing="0.26" style="fill:#1c1c1c">12</text>
<text transform="translate(441.0,40.4) scale(0.879,1)" font-size="15.5" style="fill:#1c1c1c">UTC</text>
<text x="480.0" y="40.4" font-size="15.5" letter-spacing="0.63" style="fill:#1c1c1c">25SEP2011</text>
<g shape-rendering="crispEdges">
<rect x="652" y="77" width="15" height="19" fill="#ffefdb"/>
<rect x="652" y="96" width="15" height="18" fill="#d8bfd8"/>
<rect x="652" y="114" width="15" height="19" fill="#dda0dd"/>
<rect x="652" y="133" width="15" height="19" fill="#ba55d3"/>
<rect x="652" y="152" width="15" height="18" fill="#8b008b"/>
<rect x="652" y="170" width="15" height="19" fill="#980000"/>
<rect x="652" y="189" width="15" height="18" fill="#cd0000"/>
<rect x="652" y="207" width="15" height="19" fill="#ff0000"/>
<rect x="652" y="226" width="15" height="19" fill="#ff5a00"/>
<rect x="652" y="245" width="15" height="18" fill="#f08228"/>
<rect x="652" y="263" width="15" height="19" fill="#e6af2d"/>
<rect x="652" y="282" width="15" height="19" fill="#e6dc32"/>
<rect x="652" y="301" width="15" height="18" fill="#f0eb5a"/>
<rect x="652" y="319" width="15" height="19" fill="#e1f5aa"/>
<rect x="652" y="338" width="15" height="18" fill="#a0e632"/>
<rect x="652" y="356" width="15" height="19" fill="#00dc00"/>
<rect x="652" y="375" width="15" height="19" fill="#00b400"/>
<rect x="652" y="394" width="15" height="18" fill="#007d00"/>
<rect x="652" y="412" width="15" height="19" fill="#1e3cff"/>
<rect x="652" y="431" width="15" height="19" fill="#00a0e6"/>
<rect x="652" y="450" width="15" height="18" fill="#b0e0e6"/>
<rect x="652" y="468" width="15" height="19" fill="#f0ffff"/>
</g>
<text x="670.5" y="81.2" font-size="12.5" letter-spacing="0.40">29</text>
<text x="670.5" y="99.8" font-size="12.5" letter-spacing="0.40">27</text>
<text x="670.5" y="118.5" font-size="12.5" letter-spacing="0.40">25</text>
<text x="670.5" y="137.1" font-size="12.5" letter-spacing="0.40">23</text>
<text x="670.5" y="155.7" font-size="12.5" letter-spacing="0.40">21</text>
<text x="670.5" y="174.3" font-size="12.5" letter-spacing="0.40">19</text>
<text x="670.5" y="193.0" font-size="12.5" letter-spacing="0.40">17</text>
<text x="670.5" y="211.6" font-size="12.5" letter-spacing="0.40">15</text>
<text x="670.5" y="230.2" font-size="12.5" letter-spacing="0.40">13</text>
<text x="670.5" y="248.9" font-size="12.5" letter-spacing="1.32">11</text>
<text x="670.5" y="267.5" font-size="12.5" letter-spacing="0.00">9</text>
<text x="670.5" y="286.1" font-size="12.5" letter-spacing="0.00">7</text>
<text x="670.5" y="304.8" font-size="12.5" letter-spacing="0.00">5</text>
<text x="670.5" y="323.4" font-size="12.5" letter-spacing="0.00">3</text>
<text x="670.5" y="342.0" font-size="12.5" letter-spacing="0.00">1</text>
<text x="670.5" y="360.6" font-size="12.5" letter-spacing="0.05">−1</text>
<text x="670.5" y="379.3" font-size="12.5" letter-spacing="0.05">−3</text>
<text x="670.5" y="397.9" font-size="12.5" letter-spacing="0.05">−5</text>
<text x="670.5" y="416.5" font-size="12.5" letter-spacing="0.05">−7</text>
<text x="670.5" y="435.2" font-size="12.5" letter-spacing="0.05">−9</text>
<text x="670.5" y="453.8" font-size="12.5" letter-spacing="1.76">−11</text>
<text x="670.5" y="472.4" font-size="12.5" letter-spacing="1.30">−13</text>
<text x="670.5" y="491.1" font-size="12.5" letter-spacing="1.30">−15</text>
<text x="670.5" y="509.7" font-size="12.5" letter-spacing="1.30">−17</text>
<text x="664.0" y="528.6" font-size="10" letter-spacing="1.44">(st.</text>
<text x="689.0" y="528.6" font-size="10" letter-spacing="-0.15">C)</text>
</svg></body></html>
